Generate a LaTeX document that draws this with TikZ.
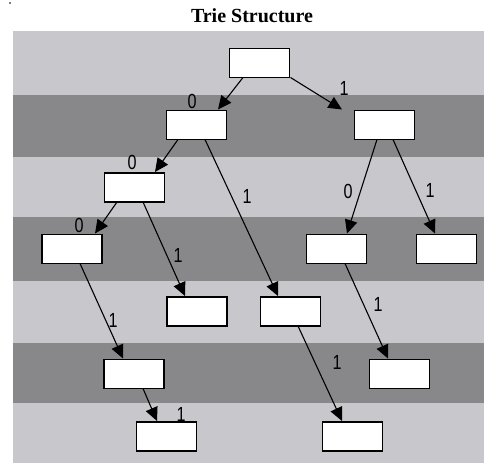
\documentclass[tikz,border=0pt]{standalone}
\usepackage{fontspec}
\setmainfont{Liberation Serif}
\newfontfamily\labelfont{Liberation Sans}
\usetikzlibrary{arrows.meta}
\definecolor{bandlight}{RGB}{200,199,204}
\definecolor{banddark}{RGB}{136,135,138}
\tikzset{
  trienode/.style={draw=black, line width=1.5pt, fill=white, minimum width=60pt, minimum height=29pt, inner sep=0pt, outer sep=0pt},
  trieedge/.style={draw=black, line width=1.1pt, -{Triangle[length=13.5pt,width=12.5pt]}},
  bitlabel/.style={font=\labelfont\fontsize{17}{17}\selectfont, inner sep=0pt, yscale=1.2, xscale=0.95, transform shape}
}
\begin{document}
\begin{tikzpicture}[x=1pt, y=-1pt]
\useasboundingbox (0,0) rectangle (484,463);
% striped background
\fill[bandlight] (13,31) rectangle (484,463);
\foreach \t/\b in {95/157, 217/281, 343/403}
  \fill[banddark] (13,\t) rectangle (484,\b);
\fill[gray] (9,2) rectangle (11,4);
% title
\node[font=\bfseries\fontsize{20}{20}\selectfont] (title) at (252,16) {Trie Structure};
% trie nodes
\node[trienode] (r)   at (259.5,63) {};
\node[trienode] (a)   at (196.5,125) {};
\node[trienode] (b)   at (384.5,125) {};
\node[trienode] (aa)  at (134.5,187.5) {};
\node[trienode] (aaa) at (72,249) {};
\node[trienode] (ba)  at (336.5,249) {};
\node[trienode] (bb)  at (446.5,249) {};
\node[trienode] (aab) at (197,311.5) {};
\node[trienode] (ab)  at (290.5,311.5) {};
\node[trienode] (aaab) at (134,374) {};
\node[trienode] (bab) at (399.5,374) {};
\node[trienode] (aaabb) at (166.5,436.5) {};
\node[trienode] (abb) at (352.5,436.5) {};
% edges
\draw[trieedge] ([xshift=-16.5pt]r.south) -- ([xshift=21.5pt,yshift=1pt]a.north);
\draw[trieedge] ([xshift=31pt]r.south) -- ([xshift=-42.5pt,yshift=1pt]b.north);
\draw[trieedge] ([xshift=-18.5pt]a.south) -- ([xshift=20.5pt,yshift=1pt]aa.north);
\draw[trieedge] ([xshift=8.5pt]a.south) -- ([xshift=-12.5pt,yshift=1pt]ab.north);
\draw[trieedge] ([xshift=-7.5pt]b.south) -- ([xshift=10.5pt,yshift=1pt]ba.north);
\draw[trieedge] ([xshift=8.5pt]b.south) -- ([xshift=-11.5pt,yshift=1pt]bb.north);
\draw[trieedge] ([xshift=-17.5pt]aa.south) -- ([xshift=23pt,yshift=1pt]aaa.north);
\draw[trieedge] ([xshift=8.5pt]aa.south) -- ([xshift=-12pt,yshift=1pt]aab.north);
\draw[trieedge] ([xshift=8pt]aaa.south) -- ([xshift=-11pt,yshift=1pt]aaab.north);
\draw[trieedge] ([xshift=8.5pt]ba.south) -- ([xshift=-11.5pt,yshift=1pt]bab.north);
\draw[trieedge] ([xshift=7.5pt]ab.south) -- ([xshift=-10.5pt,yshift=1pt]abb.north);
\draw[trieedge] ([xshift=9pt]aaab.south) -- ([xshift=-9.5pt,yshift=1pt]aaabb.north);
% edge labels
\node[bitlabel] (l1)  at (192,101) {0};
\node[bitlabel] (l2)  at (344,88) {1};
\node[bitlabel] (l3)  at (132,162) {0};
\node[bitlabel] (l4)  at (247,196) {1};
\node[bitlabel] (l5)  at (348,191) {0};
\node[bitlabel] (l6)  at (430,190) {1};
\node[bitlabel] (l7)  at (79,225) {0};
\node[bitlabel] (l8)  at (178,255) {1};
\node[bitlabel] (l9)  at (113,320) {1};
\node[bitlabel] (l10) at (378,304) {1};
\node[bitlabel] (l11) at (337,362) {1};
\node[bitlabel] (l12) at (181,414) {1};
\end{tikzpicture}
\end{document}
